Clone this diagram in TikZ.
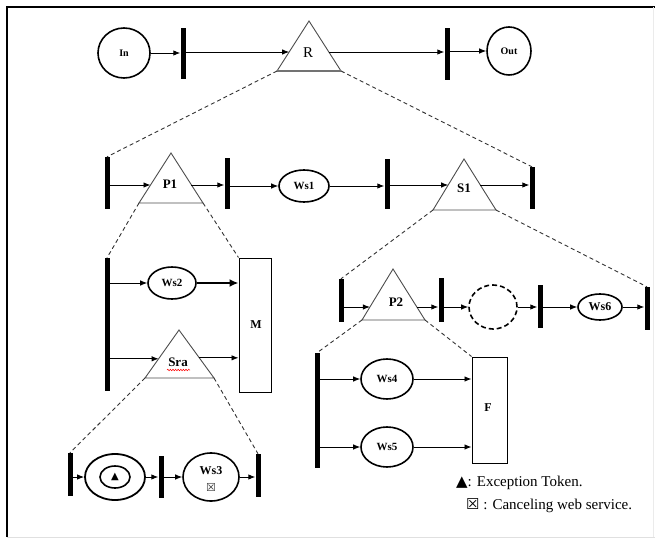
\documentclass[tikz,border=0pt]{standalone}
\usepackage{fontspec}
\setmainfont{Liberation Serif}
\newfontfamily\symfont{DejaVu Sans}
\usetikzlibrary{arrows.meta,decorations.pathmorphing,calc,shapes.geometric}

\begin{document}
\begin{tikzpicture}[x=1pt,y=-1pt,
  tbar/.style={fill=black, draw=none, inner sep=0pt, minimum width=5pt},
  place/.style={ellipse, draw, line width=1.6pt, inner sep=0pt, font=\bfseries\fontsize{11}{11}\selectfont},
  trans/.style={draw=black!70, line width=0.9pt, line join=miter},
  lbl/.style={font=\bfseries\fontsize{13}{13}\selectfont, inner sep=0pt},
  boxlbl/.style={font=\bfseries\fontsize{12}{12}\selectfont, inner sep=0pt},
  conn/.style={-{Latex[length=7pt,width=5.5pt]}, line width=0.9pt},
  thickconn/.style={-{Latex[length=9pt,width=8pt]}, line width=2.8pt},
  zoomline/.style={dash pattern=on 4pt off 3pt, line width=0.9pt, black!80},
  box/.style={rectangle, draw, line width=1pt, inner sep=0pt}
]
\useasboundingbox (0,0) rectangle (655,540);

% frame
\draw[line width=1.4pt] (655,7) -- (7,7) -- (7,537);
\draw[black!12, line width=0.8pt] (7,537) -- (655,537);
\draw[black!8, line width=0.8pt] (653,7) -- (653,537);

% ---------------- level 1 ----------------
\node[place, minimum width=52pt, minimum height=50pt, font=\bfseries\fontsize{10}{10}\selectfont] (in) at (124,53) {In};
\node[tbar, minimum height=51pt] (b1) at (183,53.5) {};
\coordinate (R-a) at (309,21);
\coordinate (R-l) at (277,71);
\coordinate (R-r) at (341,71);
\draw[trans] (R-a) -- (R-r) -- (R-l) -- cycle;
\draw[black!55, line width=1.8pt] (R-l) -- (R-r);
\node[font=\fontsize{15}{15}\selectfont, inner sep=0pt] (R) at (308,53) {R};
\coordinate (R-in) at ($(R-l)!0.38!(R-a)$);
\coordinate (R-out) at ($(R-r)!0.38!(R-a)$);
\node[tbar, minimum height=52pt] (b2) at (447,54) {};
\node[place, minimum width=44pt, minimum height=48pt, font=\bfseries\fontsize{10}{10}\selectfont] (out) at (509,51) {Out};

\draw[conn] (in) -- (in -| b1.west);
\draw[conn] (b1.east |- R-in) -- (R-in);
\draw[conn] (R-out) -- (R-out -| b2.west);
\draw[conn] (b2.east |- out) -- (out.west);

% ---------------- level 2 ----------------
\node[tbar, minimum height=52pt] (bA) at (107,183) {};
\coordinate (P1-a) at (171,153);
\coordinate (P1-l) at (139,203);
\coordinate (P1-r) at (203,203);
\draw[trans] (P1-a) -- (P1-r) -- (P1-l) -- cycle;
\node[lbl] (P1) at (170,184) {P1};
\coordinate (P1-in) at ($(P1-l)!0.36!(P1-a)$);
\coordinate (P1-out) at ($(P1-r)!0.36!(P1-a)$);
\node[tbar, minimum height=51pt] (bB) at (227,183.5) {};
\node[place, minimum width=50pt, minimum height=32pt] (ws1) at (304,186) {Ws1};
\node[tbar, minimum height=50pt] (bC) at (387,184) {};
\coordinate (S1-a) at (464,159);
\coordinate (S1-l) at (433,210);
\coordinate (S1-r) at (496,210);
\draw[trans] (S1-a) -- (S1-r) -- (S1-l) -- cycle;
\node[lbl] (S1) at (464,188) {S1};
\coordinate (S1-in) at ($(S1-l)!0.49!(S1-a)$);
\coordinate (S1-out) at ($(S1-r)!0.49!(S1-a)$);
\node[tbar, minimum height=42pt] (bD) at (532,188) {};

\draw[conn] (bA.east |- P1-in) -- (P1-in);
\draw[conn] (P1-out) -- (P1-out -| bB.west);
\draw[conn] (bB.east |- ws1) -- (ws1.west);
\draw[conn] (ws1.east) -- (ws1.east -| bC.west);
\draw[conn] (bC.east |- S1-in) -- (S1-in);
\draw[conn] (S1-out) -- (S1-out -| bD.west);

% ---------------- P1 expanded ----------------
\node[tbar, minimum height=133pt] (bE) at (107,324.5) {};
\node[place, minimum width=48pt, minimum height=32pt] (ws2) at (172,283) {Ws2};
\node[box, minimum width=32pt, minimum height=134pt] (M) at (255,325) {};
\node[boxlbl] (Mlbl) at (256,325) {M};
\coordinate (Sra-a) at (179,330);
\coordinate (Sra-l) at (145,378);
\coordinate (Sra-r) at (214,378);
\draw[trans] (Sra-a) -- (Sra-r) -- (Sra-l) -- cycle;
\node[lbl] (Sra) at (178,362) {Sra};
\draw[red, line width=0.5pt, decorate, decoration={snake, amplitude=0.8pt, segment length=2.6pt}] (167,370) -- (190,370);
\coordinate (Sra-in) at ($(Sra-l)!0.4!(Sra-a)$);
\coordinate (Sra-out) at ($(Sra-r)!0.42!(Sra-a)$);

\draw[conn] (bE.east |- ws2) -- (ws2.west);
\draw[thickconn] (ws2.east) -- (ws2.east -| M.west);
\draw[conn] (bE.east |- Sra-in) -- (Sra-in);
\draw[conn] (Sra-out) -- (Sra-out -| M.west);

% ---------------- Sra expanded ----------------
\node[tbar, minimum height=43pt] (bF) at (70,474.5) {};
\node[ellipse, draw, line width=1.8pt, minimum width=60pt, minimum height=46pt, inner sep=0pt] (tok) at (115,477) {};
\node[ellipse, draw, line width=1.6pt, minimum width=30pt, minimum height=22pt, inner sep=0pt, font=\symfont\fontsize{10}{10}\selectfont] (tokin) at (115,477) {▲};
\node[tbar, minimum height=42pt] (bG) at (161,477) {};
\node[ellipse, draw, line width=1.6pt, minimum width=56pt, minimum height=48pt, inner sep=0pt] (ws3) at (211,477) {};
\node[font=\bfseries\fontsize{12}{12}\selectfont, inner sep=0pt] (ws3lbl) at (211,471) {Ws3};
\node[font=\symfont\fontsize{11}{11}\selectfont, inner sep=0pt, text=black!80] (ws3x) at (211,487) {☒};
\node[tbar, minimum height=43pt] (bH) at (258,475.5) {};

\draw[conn] (bF.east |- tok) -- (tok.west);
\draw[conn] (tok.east) -- (tok.east -| bG.west);
\draw[conn] (bG.east |- ws3) -- (ws3.west);
\draw[conn] (ws3.east) -- (ws3.east -| bH.west);

% ---------------- S1 expanded ----------------
\node[tbar, minimum height=43pt] (bI) at (341,300.5) {};
\coordinate (P2-a) at (393,269);
\coordinate (P2-l) at (362,320);
\coordinate (P2-r) at (425,320);
\draw[trans] (P2-a) -- (P2-r) -- (P2-l) -- cycle;
\node[lbl] (P2) at (396,302) {P2};
\coordinate (P2-in) at ($(P2-l)!0.255!(P2-a)$);
\coordinate (P2-out) at ($(P2-r)!0.255!(P2-a)$);
\node[tbar, minimum height=44pt] (bJ) at (441,300) {};
\node[ellipse, draw, dash pattern=on 5pt off 3pt, line width=1.6pt, minimum width=48pt, minimum height=44pt, inner sep=0pt] (dc) at (493,307) {};
\node[tbar, minimum height=43pt] (bK) at (540,306.5) {};
\node[place, minimum width=44pt, minimum height=26pt, font=\bfseries\fontsize{12}{12}\selectfont] (ws6) at (600,307) {Ws6};
\node[tbar, minimum height=43pt] (bL) at (647,308.5) {};

\draw[conn] (bI.east |- P2-in) -- (P2-in);
\draw[conn] (P2-out) -- (P2-out -| bJ.west);
\draw[conn] (bJ.east |- dc) -- (dc.west);
\draw[conn] (dc.east) -- (dc.east -| bK.west);
\draw[conn] (bK.east |- ws6) -- (ws6.west);
\draw[conn] (ws6.east) -- (ws6.east -| bL.west);

% ---------------- P2 expanded ----------------
\node[tbar, minimum height=115pt] (bM) at (317,410.5) {};
\node[place, minimum width=52pt, minimum height=40pt] (ws4) at (387,379) {Ws4};
\node[place, minimum width=52pt, minimum height=40pt] (ws5) at (387,447) {Ws5};
\node[box, minimum width=35pt, minimum height=106pt] (F) at (489.5,410) {};
\node[boxlbl] (Flbl) at (488,408) {F};

\draw[conn] (bM.east |- ws4) -- (ws4.west);
\draw[conn] (ws4.east) -- (ws4.east -| F.west);
\draw[conn] (bM.east |- ws5) -- (ws5.west);
\draw[conn] (ws5.east) -- (ws5.east -| F.west);

% ---------------- refinement lines ----------------
\draw[zoomline] (R-l) -- (bA.north);
\draw[zoomline] (R-r) -- (bD.north);
\draw[zoomline] (P1-l) -- (bE.north);
\draw[zoomline] (P1-r) -- (M.north west);
\draw[zoomline] (S1-l) -- (bI.north);
\draw[zoomline] (S1-r) -- (bL.north);
\draw[zoomline] (Sra-l) -- (bF.north);
\draw[zoomline] (Sra-r) -- (bH.north);
\draw[zoomline] (P2-l) -- (bM.north);
\draw[zoomline] (P2-r) -- (F.north west);

% ---------------- legend ----------------
\node[anchor=west, inner sep=0pt, font=\fontsize{15}{15}\selectfont] (leg1) at (456,483) {{\symfont ▲}: Exception Token.};
\node[anchor=west, inner sep=0pt, font=\fontsize{15}{15}\selectfont] (leg2) at (466,506) {{\symfont\fontsize{15}{15}\selectfont ☒} : Canceling web service.};
\end{tikzpicture}
\end{document}
